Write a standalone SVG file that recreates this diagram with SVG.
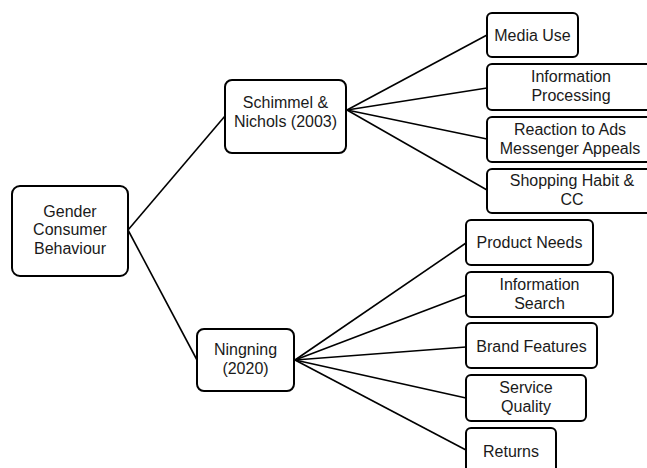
<svg xmlns="http://www.w3.org/2000/svg" width="647" height="468" viewBox="0 0 647 468">
<style>
.box{fill:#fff;stroke:#000;stroke-width:2}
.lbl{font-family:"Liberation Sans",Arial,sans-serif;font-size:16px;fill:#1a1a1a;text-anchor:middle}
.conn line{stroke:#000;stroke-width:1.6}
</style>
<rect width="647" height="468" fill="#fff"/>
<g id="connectors" class="conn">
<line x1="128" y1="230" x2="225" y2="116"/>
<line x1="128" y1="230" x2="197" y2="360"/>
<line x1="347" y1="110" x2="487" y2="35"/>
<line x1="347" y1="110" x2="487" y2="88"/>
<line x1="347" y1="110" x2="487" y2="139"/>
<line x1="347" y1="110" x2="487" y2="190"/>
<line x1="295" y1="360" x2="466" y2="243"/>
<line x1="295" y1="360" x2="466" y2="295"/>
<line x1="295" y1="360" x2="466" y2="347"/>
<line x1="295" y1="360" x2="466" y2="398"/>
<line x1="295" y1="360" x2="466" y2="450"/>
</g>
<g id="gender">
<rect class="box" x="12" y="186" width="116" height="90" rx="8"/>
<text class="lbl" x="70" y="216.5">Gender</text>
<text class="lbl" x="70" y="235">Consumer</text>
<text class="lbl" x="70" y="253.5">Behaviour</text>
</g>
<g id="schimmel">
<rect class="box" x="225" y="80" width="121" height="73" rx="7"/>
<text class="lbl" x="285.5" y="108.25">Schimmel &amp;</text>
<text class="lbl" x="285.5" y="126.75">Nichols (2003)</text>
</g>
<g id="ningning">
<rect class="box" x="197" y="329" width="97" height="62" rx="7"/>
<text class="lbl" x="245.5" y="355.25">Ningning</text>
<text class="lbl" x="245.5" y="373.75">(2020)</text>
</g>
<g id="media-use">
<rect class="box" x="487" y="13" width="91" height="44" rx="5"/>
<text class="lbl" x="532.5" y="40.5">Media Use</text>
</g>
<g id="info-processing">
<rect class="box" x="487" y="64" width="168" height="46" rx="5"/>
<text class="lbl" x="571" y="82.25">Information</text>
<text class="lbl" x="571" y="100.75">Processing</text>
</g>
<g id="reaction">
<rect class="box" x="487" y="117" width="168" height="45" rx="5"/>
<text class="lbl" x="570" y="135.25">Reaction to Ads</text>
<text class="lbl" x="570" y="153.75">Messenger Appeals</text>
</g>
<g id="shopping">
<rect class="box" x="487" y="169" width="168" height="44" rx="5"/>
<text class="lbl" x="572" y="186.25">Shopping Habit &amp;</text>
<text class="lbl" x="572" y="204.75">CC</text>
</g>
<g id="product-needs">
<rect class="box" x="466" y="220" width="127" height="45" rx="5"/>
<text class="lbl" x="529.5" y="247.5">Product Needs</text>
</g>
<g id="info-search">
<rect class="box" x="466" y="272" width="147" height="45" rx="5"/>
<text class="lbl" x="539.5" y="290.25">Information</text>
<text class="lbl" x="539.5" y="308.75">Search</text>
</g>
<g id="brand-features">
<rect class="box" x="466" y="323" width="131" height="45" rx="5"/>
<text class="lbl" x="531.5" y="351.5">Brand Features</text>
</g>
<g id="service-quality">
<rect class="box" x="466" y="375" width="120" height="46" rx="5"/>
<text class="lbl" x="526" y="393.25">Service</text>
<text class="lbl" x="526" y="411.75">Quality</text>
</g>
<g id="returns">
<rect class="box" x="466" y="428" width="90" height="46" rx="5"/>
<text class="lbl" x="511" y="456.5">Returns</text>
</g>
</svg>
